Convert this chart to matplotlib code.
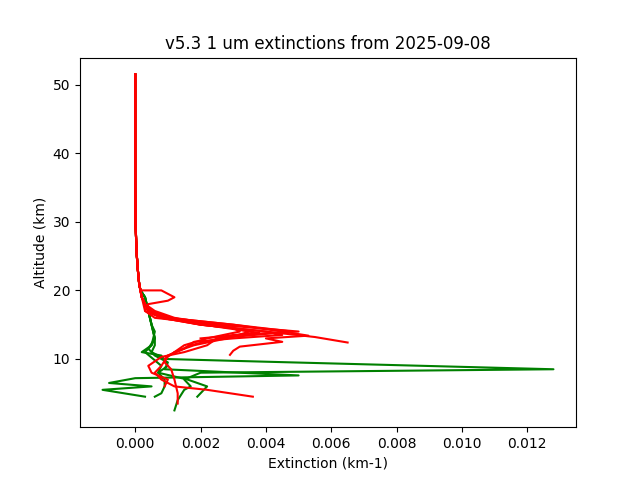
import matplotlib
matplotlib.use('Agg')
import matplotlib.pyplot as plt

# upper part shared by all profiles (altitude km, extinction km-1)
upper_alt = [51.5, 45.0, 40.0, 35.0, 30.0, 27.0, 25.0, 23.0, 21.0, 20.0]
upper_ext = [0.0, 0.0, 0.0, 0.0, 0.00001, 0.00003, 0.00005, 0.00008, 0.00012, 0.00016]

red_profiles = [
    ([19.0, 18.0, 17.0, 16.0, 15.0, 14.0, 13.2, 12.4],
     [0.0002, 0.00025, 0.0003, 0.0008, 0.002, 0.004, 0.0055, 0.0065]),
    ([19.0, 18.0, 17.0, 16.0, 15.0, 14.0, 13.4, 13.0, 12.5, 11.8, 11.2, 10.6],
     [0.0002, 0.0003, 0.0004, 0.001, 0.003, 0.0045, 0.0053, 0.004, 0.0045, 0.0032, 0.003, 0.0029]),
    ([19.0, 18.0, 17.0, 16.0, 15.0, 14.0, 13.5, 13.0, 12.5, 11.5, 10.5, 9.0, 8.0, 7.0, 6.0, 5.5, 4.5],
     [0.0002, 0.0003, 0.0004, 0.0008, 0.002, 0.004, 0.0045, 0.003, 0.0018, 0.0015, 0.001, 0.0008, 0.0006, 0.0008, 0.0012, 0.0022, 0.0036]),
    ([20.0, 19.0, 18.5, 18.0, 17.0, 16.0, 15.0, 14.0, 13.5, 12.0, 10.5, 9.5, 8.5, 7.0, 5.0, 3.5],
     [0.0008, 0.0012, 0.001, 0.0004, 0.0003, 0.0006, 0.0025, 0.005, 0.003, 0.0017, 0.001, 0.0009, 0.0011, 0.0012, 0.0013, 0.0013]),
    ([19.0, 18.0, 17.0, 16.0, 15.0, 14.0, 13.0, 12.0, 11.0, 10.3, 9.0, 8.0, 7.0, 6.0],
     [0.0002, 0.0003, 0.0005, 0.001, 0.003, 0.0048, 0.0025, 0.0022, 0.0015, 0.0008, 0.0004, 0.0005, 0.001, 0.0009]),
    ([19.0, 18.0, 17.0, 16.0, 15.0, 14.0, 13.0, 12.0, 11.0, 10.0],
     [0.0002, 0.0003, 0.0006, 0.0012, 0.0025, 0.0035, 0.0028, 0.0018, 0.0012, 0.0009]),
    ([19.0, 18.0, 17.0, 16.0, 15.0, 14.5, 14.0, 13.0, 12.0, 11.0],
     [0.0002, 0.0003, 0.0005, 0.0011, 0.002, 0.003, 0.0032, 0.0022, 0.0015, 0.0012]),
    ([19.0, 18.0, 17.0, 16.0, 15.2, 14.5, 13.8, 13.0],
     [0.0002, 0.0003, 0.0004, 0.0009, 0.0018, 0.0028, 0.0038, 0.002]),
]

green_profiles = [
    ([19.0, 17.0, 15.0, 13.0, 12.0, 11.0, 10.0, 9.6, 8.5, 8.0, 7.0, 6.0, 5.5, 4.0, 2.5],
     [0.0003, 0.0004, 0.0005, 0.0006, 0.0006, 0.0005, 0.0009, 0.004, 0.0128, 0.002, 0.0015, 0.0017, 0.0015, 0.0013, 0.0012]),
    ([19.0, 17.0, 15.0, 13.0, 11.5, 10.5, 9.5, 8.5, 7.6, 7.2, 6.5, 6.0, 5.5, 4.5],
     [0.0003, 0.0004, 0.0005, 0.0006, 0.0004, 0.0006, 0.001, 0.0009, 0.005, 0.0, -0.0008, 0.0005, -0.001, 0.0003]),
    ([19.0, 17.0, 15.0, 14.0, 12.0, 11.0, 10.5, 9.0, 8.0, 7.0, 6.0, 5.0, 4.5],
     [0.0003, 0.0004, 0.0005, 0.0006, 0.0005, 0.0002, 0.0008, 0.001, 0.0007, 0.0016, 0.0022, 0.002, 0.0019]),
    ([19.0, 17.0, 15.0, 13.0, 12.0, 11.0, 9.0, 8.0, 7.0, 6.0, 5.0, 4.5],
     [0.0003, 0.0004, 0.0005, 0.0006, 0.0005, 0.0003, 0.0008, 0.0007, 0.0009, 0.0009, 0.0008, 0.0006]),
]

fig, ax = plt.subplots(figsize=(6.4, 4.8), dpi=100)

for alt, ext in green_profiles:
    ax.plot(upper_ext + ext, upper_alt + alt, color='green')
for alt, ext in red_profiles:
    ax.plot(upper_ext + ext, upper_alt + alt, color='red')

ax.set_title('v5.3 1 um extinctions from 2025-09-08')
ax.set_xlabel('Extinction (km-1)')
ax.set_ylabel('Altitude (km)')
ax.set_yticks([10, 20, 30, 40, 50])

plt.savefig('out.png')
